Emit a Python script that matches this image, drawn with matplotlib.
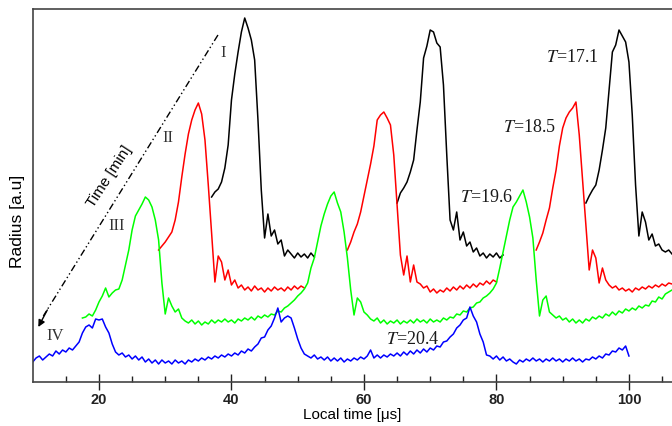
import numpy as np
import matplotlib
matplotlib.use("Agg")
import matplotlib.pyplot as plt
from matplotlib.ticker import MultipleLocator

plt.rcParams['mathtext.fontset'] = 'stix'

DT = 0.5

# trace I (black), shown in three visible pieces (rest hidden behind the others)
black_start = [37.0, 65.0, 93.5]
black = [
    [185, 190, 193, 200, 214, 237, 282, 308, 330, 350, 364, 354, 342, 322, 262, 192,
     144, 168, 146, 152, 138, 142, 126, 132, 128, 124, 129, 125, 128, 124, 129, 125],
    [179, 189, 194, 200, 210, 222, 252, 280, 324, 336, 352, 350, 339, 335, 297, 227,
     162, 152, 170, 142, 150, 136, 140, 130, 134, 126, 129, 124, 128, 125, 129, 124, 127],
    [179, 186, 192, 197, 212, 232, 254, 292, 330, 337, 352, 346, 340, 320, 267, 197,
     146, 170, 160, 142, 148, 136, 138, 132, 130, 132, 128],
]

# trace II (red)
red_start = [29.0, 57.5, 86.0]
red = [
    [132, 136, 140, 145, 150, 162, 180, 205, 228, 248, 262, 272, 279, 268, 242, 197,
     149, 100, 126, 120, 102, 112, 97, 102, 94, 97, 92, 95, 91, 96, 92, 94, 90, 94,
     91, 95, 92, 94, 91, 95, 92, 96, 93, 96, 94],
    [132, 140, 150, 158, 170, 186, 202, 218, 236, 262, 267, 270, 264, 257, 227, 177,
     127, 107, 126, 100, 117, 100, 98, 94, 96, 90, 93, 89, 92, 90, 94, 91, 95, 92, 96,
     93, 97, 94, 98, 95, 99, 97, 101, 98, 102, 100],
    [132, 140, 149, 162, 174, 194, 212, 236, 254, 264, 270, 274, 280, 247, 202, 157,
     112, 132, 124, 99, 114, 102, 97, 94, 96, 92, 94, 91, 93, 90, 94, 92, 95, 93, 96,
     94, 97, 95, 98, 96, 99, 98],
]

# trace III (green)
green_start = 17.5
green = [64, 65, 68, 66, 72, 80, 86, 94, 85, 89, 92, 93, 102, 117, 132,
         152, 166, 172, 178, 185, 182, 175, 162, 142, 99, 68, 84, 76, 70, 73,
         64, 61, 59, 62, 58, 61, 57, 60, 58, 62, 59, 62, 60, 63, 60,
         62, 59, 63, 61, 64, 62, 65, 62, 66, 64, 67, 65, 68, 67, 71,
         70, 74, 76, 79, 82, 86, 89, 93, 99, 114, 124, 140, 156, 168, 178,
         186, 190, 179, 170, 150, 124, 92, 67, 84, 80, 70, 67, 63, 61, 64,
         59, 62, 58, 61, 59, 62, 58, 61, 59, 62, 59, 63, 60, 62, 59,
         63, 60, 62, 60, 64, 62, 65, 64, 68, 67, 71, 70, 74, 75, 79,
         80, 84, 86, 89, 93, 99, 114, 130, 146, 162, 175, 180, 186, 192, 180,
         165, 144, 102, 66, 82, 86, 70, 67, 64, 66, 62, 64, 60, 63, 59,
         62, 59, 63, 61, 65, 63, 66, 64, 68, 66, 70, 67, 71, 69, 73,
         71, 74, 72, 76, 74, 77, 76, 81, 80, 85, 83, 88, 90, 92]

# trace IV (blue)
blue_start = 10.0
blue = [20, 24, 26, 22, 25, 28, 26, 31, 28, 32, 30, 34, 32, 36, 40,
        49, 55, 57, 54, 63, 62, 63, 55, 49, 38, 30, 27, 29, 25, 27,
        23, 26, 22, 25, 20, 23, 19, 22, 18, 22, 19, 21, 18, 22, 19,
        21, 18, 22, 20, 23, 21, 24, 22, 25, 23, 26, 24, 27, 25, 28,
        26, 29, 27, 31, 29, 33, 31, 35, 38, 44, 45, 52, 56, 64, 74,
        60, 64, 66, 64, 54, 43, 34, 28, 26, 24, 27, 23, 25, 22, 25,
        21, 24, 21, 24, 20, 23, 21, 24, 22, 25, 23, 26, 32, 24, 27,
        24, 27, 25, 28, 26, 29, 26, 30, 27, 31, 28, 32, 29, 33, 30,
        34, 32, 36, 35, 40, 41, 45, 48, 54, 57, 62, 64, 75, 66, 60,
        48, 40, 27, 26, 23, 26, 22, 25, 21, 23, 20, 18, 22, 20, 23,
        21, 24, 21, 23, 20, 23, 21, 24, 21, 23, 20, 23, 21, 24, 21,
        23, 20, 23, 22, 25, 23, 26, 24, 28, 27, 31, 30, 34, 32, 36, 26]

labels = ['I', 'II', 'III', 'IV']
periods = ['17.1', '18.5', '19.6', '20.4']


def seg_x(t0, vals):
    return t0 + DT * np.arange(len(vals))


fig = plt.figure(figsize=(6.72, 4.26), dpi=100)
ax = fig.add_axes([33 / 672, 44 / 426, 639 / 672, 373 / 426])

lw = 1.1
for t0, s in zip(black_start, black):
    ax.plot(seg_x(t0, s), s, color='black', lw=lw)
for t0, s in zip(red_start, red):
    ax.plot(seg_x(t0, s), s, color='#ff0000', lw=lw)
ax.plot(seg_x(green_start, green), green, color='#00ff00', lw=lw)
ax.plot(seg_x(blue_start, blue), blue, color='#0000ff', lw=lw)

ax.set_xlim(10.04, 106.5)
ax.set_ylim(0, 373)

# time arrow
ax.plot([37.96, 11.6], [347, 66], color='black', lw=1.0,
        dashes=(5, 2, 1, 2, 1, 2))
ax.annotate('', xy=(10.84, 55), xytext=(12.2, 72),
            arrowprops=dict(arrowstyle='-|>', color='black', lw=1.0,
                            mutation_scale=10, shrinkA=0, shrinkB=0))
ax.text(21.6, 205, 'Time [min]', rotation=57, fontsize=11,
        family='Liberation Sans', ha='center', va='center')

serif = 'Liberation Serif'
num_pos = [(38.7, 329), (30.4, 244), (22.7, 156), (13.4, 46)]
for lab, (x, y) in zip(labels, num_pos):
    ax.text(x, y, lab, fontsize=12, family=serif, color='#333333',
            ha='center', va='center')

t_pos = [(91.4, 325), (85.06, 255), (78.57, 185), (67.4, 43)]
for p, (x, y) in zip(periods, t_pos):
    ax.text(x, y, r'$T$=' + p, fontsize=13, family=serif, color='#1a1a1a',
            ha='center', va='center')

# axes styling
ax.set_xticks([20, 40, 60, 80, 100])
ax.xaxis.set_minor_locator(MultipleLocator(5))
ax.set_yticks([])
ax.tick_params(axis='x', which='major', direction='inout', length=12,
               width=1.0, labelsize=10.5, pad=2, colors='#222222')
ax.tick_params(axis='x', which='minor', direction='in', length=4, width=1.0,
               colors='#222222')
ax.tick_params(axis='x', top=False)
for lab in ax.get_xticklabels():
    lab.set_fontweight('bold')
    lab.set_family('Liberation Sans')

for side in ['left', 'top', 'bottom']:
    ax.spines[side].set_color('#444444')
    ax.spines[side].set_linewidth(1.2)
ax.spines['right'].set_visible(False)

ax.set_xlabel('Local time [\u03bcs]', fontsize=11, family='Liberation Sans',
              labelpad=1)
ax.set_ylabel('Radius [a.u]', fontsize=12.5, family='Liberation Sans')
ax.yaxis.set_label_coords(-0.0125, 0.43)

fig.savefig('out.png', dpi=100)
